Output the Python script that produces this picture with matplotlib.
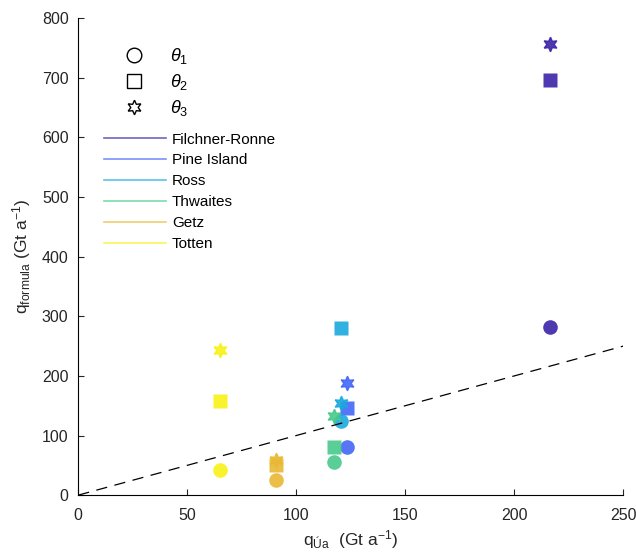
import numpy as np
import matplotlib.pyplot as plt
from matplotlib.lines import Line2D

plt.rcParams['font.family'] = ['Liberation Sans', 'DejaVu Sans']
plt.rcParams['mathtext.fontset'] = 'custom'
plt.rcParams['mathtext.rm'] = 'Liberation Sans'
plt.rcParams['mathtext.it'] = 'Liberation Sans:italic'

# data
glaciers = ['Filchner-Ronne', 'Pine Island', 'Ross', 'Thwaites', 'Getz', 'Totten']
colors = ['#3c23a8', '#4366f7', '#1aa9dc', '#47c98b', '#e9b833', '#f8f215']
q_ua = [216.5, 123.5, 120.6, 117.4, 90.8, 65.1]
q_theta1 = [282, 81, 125, 55, 25, 43]
q_theta2 = [696, 146, 280, 80, 51, 158]
q_theta3 = [757, 188, 154, 132, 59, 243]

fig = plt.figure(figsize=(6.36, 5.52), dpi=100)
ax = fig.add_axes([0.123, 0.103, 0.857, 0.864])

star = (6, 1, 0)
for i in range(len(glaciers)):
    ax.plot(q_ua[i], q_theta1[i], 'o', color=colors[i], ms=10.5, mec='none', alpha=0.9)
    ax.plot(q_ua[i], q_theta2[i], 's', color=colors[i], ms=9.5, mec='none', alpha=0.9)
    ax.plot(q_ua[i], q_theta3[i], marker=star, ls='none', color=colors[i], ms=10.5, mec=colors[i], alpha=0.9)

ax.plot([0, 250], [0, 250], '--', color='k', lw=0.9, dashes=(9, 6))

ax.set_xlim(0, 250)
ax.set_ylim(0, 800)
ax.set_xticks([0, 50, 100, 150, 200, 250])
ax.set_yticks([0, 100, 200, 300, 400, 500, 600, 700, 800])
for s in ['top', 'right']:
    ax.spines[s].set_visible(False)
ax.tick_params(direction='in', length=4, labelsize=11.5, colors='#262626')
ax.tick_params(axis='x', pad=9)
ax.tick_params(axis='y', pad=7)
ax.set_xlabel(r'q$_{\mathregular{Úa}}$  (Gt a$^{\mathregular{-1}}$)', fontsize=12.5, color='#262626', labelpad=4)
ax.set_ylabel(r'q$_{\mathregular{formula}}$ (Gt a$^{\mathregular{-1}}$)', fontsize=12.5, color='#262626', labelpad=6)

theta_handles = [
    Line2D([], [], marker='o', ls='none', mfc='none', mec='k', ms=10.5),
    Line2D([], [], marker='s', ls='none', mfc='none', mec='k', ms=9.5),
    Line2D([], [], marker=star, ls='none', mfc='none', mec='k', ms=10.5),
]
theta_labels = [r'$\theta_1$', r'$\theta_2$', r'$\theta_3$']
leg1 = ax.legend(theta_handles, theta_labels, loc='upper left', bbox_to_anchor=(0.04, 0.975),
                 frameon=False, fontsize=13, handlelength=2.0, handletextpad=0.95, labelspacing=0.33)
ax.add_artist(leg1)

line_handles = [Line2D([], [], color=c, lw=1.2, alpha=0.7) for c in colors]
ax.legend(line_handles, glaciers, loc='upper left', bbox_to_anchor=(0.022, 0.789), frameon=False,
          fontsize=11, handlelength=4.05, handletextpad=0.4, labelspacing=0.45)

fig.savefig('out.png', dpi=100)
